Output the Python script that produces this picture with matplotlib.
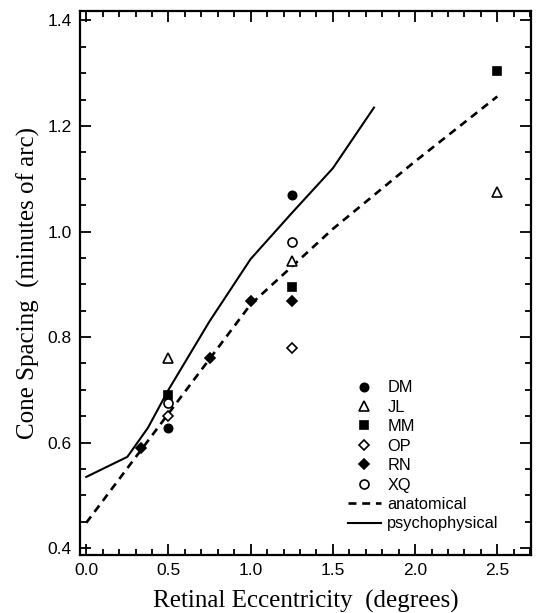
import matplotlib
matplotlib.use("Agg")
import matplotlib.pyplot as plt
from matplotlib.ticker import MultipleLocator, FormatStrFormatter
from matplotlib.lines import Line2D

# ---- data ----
dm_x = [0.5, 1.25]
dm_y = [0.627, 1.07]
jl_x = [0.5, 1.25, 2.5]
jl_y = [0.76, 0.945, 1.075]
mm_x = [0.5, 1.25, 2.5]
mm_y = [0.69, 0.895, 1.305]
op_x = [0.5, 1.25]
op_y = [0.65, 0.78]
rn_x = [0.33, 0.75, 1.0, 1.25]
rn_y = [0.59, 0.76, 0.869, 0.869]
xq_x = [0.5, 1.25]
xq_y = [0.675, 0.98]

anat_x = [0.0, 0.5, 1.0, 1.5, 2.0, 2.5]
anat_y = [0.448, 0.655, 0.862, 1.005, 1.133, 1.256]
psy_x = [0.0, 0.25, 0.375, 0.5, 0.75, 1.0, 1.25, 1.5, 1.75]
psy_y = [0.535, 0.573, 0.628, 0.70, 0.83, 0.948, 1.035, 1.12, 1.235]

labels = ["DM", "JL", "MM", "OP", "RN", "XQ", "anatomical", "psychophysical"]

sans = ["Liberation Sans", "DejaVu Sans"]
serif = ["Liberation Serif", "DejaVu Serif"]

fig = plt.figure(figsize=(5.37, 6.13), dpi=100)
ax = fig.add_axes([80/537, 1-555/613, (531-80)/537, (555-11)/613])

dash = (0, (3, 2.2))
ax.plot(anat_x, anat_y, color="black", lw=1.9, ls=dash)
ax.plot(psy_x, psy_y, color="black", lw=1.5, ls="-")

mk = dict(ls="none", color="black", mew=1.2)
ax.plot(dm_x, dm_y, marker="o", ms=6, mfc="black", **mk)
ax.plot(jl_x, jl_y, marker="^", ms=7, mfc="white", **mk)
ax.plot(mm_x, mm_y, marker="s", ms=6, mfc="black", **mk)
ax.plot(op_x, op_y, marker="D", ms=5, mfc="white", **mk)
ax.plot(rn_x, rn_y, marker="D", ms=5, mfc="black", **mk)
ax.plot(xq_x, xq_y, marker="o", ms=6.5, mfc="white", **mk)

ax.set_xlim(-0.038, 2.705)
ax.set_ylim(0.387, 1.418)

ax.xaxis.set_major_locator(MultipleLocator(0.5))
ax.xaxis.set_minor_locator(MultipleLocator(0.1))
ax.yaxis.set_major_locator(MultipleLocator(0.2))
ax.yaxis.set_minor_locator(MultipleLocator(0.05))
ax.xaxis.set_major_formatter(FormatStrFormatter("%.1f"))
ax.yaxis.set_major_formatter(FormatStrFormatter("%.1f"))
ax.tick_params(which="both", direction="in", top=True, right=True, width=1.3, colors="black")
ax.tick_params(which="major", length=8, labelsize=12.5)
ax.tick_params(axis="x", which="major", pad=6)
ax.tick_params(axis="y", which="major", pad=6)
ax.tick_params(which="minor", length=4.5)
for lab in ax.get_xticklabels() + ax.get_yticklabels():
    lab.set_family(sans)
for s in ax.spines.values():
    s.set_linewidth(1.6)

ax.set_xlabel("Retinal Eccentricity  (degrees)", fontsize=18, family=serif, labelpad=8)
ax.set_ylabel("Cone Spacing  (minutes of arc)", fontsize=18, family=serif, labelpad=5)

handles = [
    Line2D([], [], marker="o", ms=6, mfc="black", **mk),
    Line2D([], [], marker="^", ms=7, mfc="white", **mk),
    Line2D([], [], marker="s", ms=6, mfc="black", **mk),
    Line2D([], [], marker="D", ms=5, mfc="white", **mk),
    Line2D([], [], marker="D", ms=5, mfc="black", **mk),
    Line2D([], [], marker="o", ms=6.5, mfc="white", **mk),
    Line2D([], [], color="black", lw=1.9, ls=dash),
    Line2D([], [], color="black", lw=1.5),
]
leg = ax.legend(handles, labels, loc="upper left", bbox_to_anchor=(0.594, 0.321),
                frameon=False, prop={"family": sans, "size": 11.8},
                handlelength=2.0, handletextpad=0.4, labelspacing=0.27,
                borderaxespad=0, borderpad=0)

fig.savefig("out.png", dpi=100)
